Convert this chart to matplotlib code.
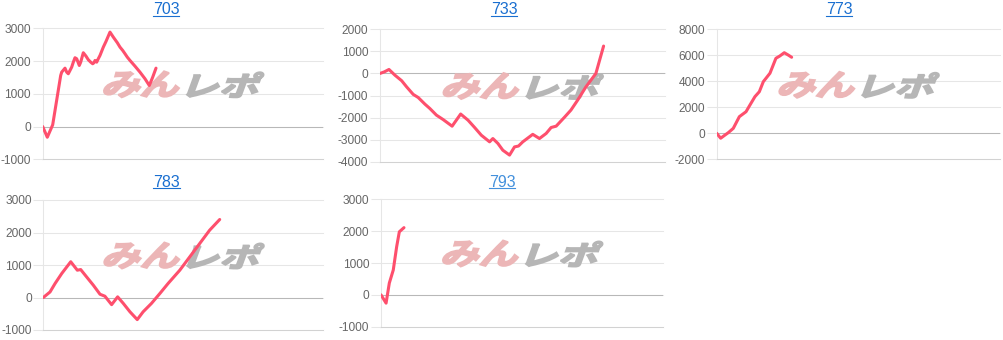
import matplotlib
matplotlib.use('Agg')
import matplotlib.pyplot as plt
from matplotlib.textpath import TextPath
from matplotlib.patches import PathPatch
from matplotlib.font_manager import FontProperties
from matplotlib.transforms import Affine2D
from matplotlib.lines import Line2D

# ---------------- data ----------------
titles = ['703', '733', '773', '783', '793']

games_703 = [0, 164, 356, 641, 677, 795, 855, 912, 973, 1033, 1091, 1151, 1212, 1304, 1354,
             1447, 1543, 1625, 1711, 1782, 1828, 1864, 1924, 1981, 2042, 2160, 2256, 2398,
             2516, 2659, 2755, 2851, 2933, 3015, 3111, 3289, 3467, 3646, 3799, 3920, 4038]
diff_703 = [0, -327, 52, 1560, 1661, 1783, 1661, 1612, 1713, 1814, 1966, 2101, 2070, 1865,
            1966, 2254, 2150, 2040, 1966, 1917, 1948, 2018, 1966, 2070, 2171, 2425, 2599,
            2884, 2731, 2560, 2425, 2324, 2223, 2119, 2018, 1844, 1661, 1459, 1254, 1508, 1783]

games_733 = [0, 150, 315, 525, 760, 935, 1165, 1340, 1575, 1750, 1980, 2215, 2530, 2830,
             3090, 3320, 3555, 3845, 3960, 4135, 4310, 4545, 4720, 4860, 5010, 5360, 5595,
             5830, 6005, 6180, 6470, 6700, 6935, 7225, 7575, 7845]
diff_733 = [0, 70, 180, -80, -330, -610, -950, -1090, -1390, -1590, -1890, -2090, -2390,
            -1840, -2120, -2450, -2800, -3100, -2950, -3170, -3480, -3700, -3330, -3290,
            -3100, -2760, -2950, -2720, -2450, -2390, -1990, -1660, -1210, -610, 0, 1240]

games_773 = [0, 140, 295, 410, 585, 800, 1035, 1175, 1350, 1505, 1645, 1880, 2090, 2230,
             2385, 2525, 2645]
diff_773 = [0, -380, -130, 50, 380, 1280, 1660, 2180, 2820, 3200, 3970, 4620, 5770, 5950,
            6200, 6020, 5850]

games_783 = [0, 240, 420, 660, 980, 1215, 1335, 1550, 1785, 2025, 2200, 2440, 2655, 2855,
             3095, 3355, 3565, 3865, 4160, 4455, 4875, 5230, 5585, 5940, 6300]
diff_783 = [0, 170, 430, 740, 1100, 840, 860, 630, 380, 100, 40, -220, 20, -180, -440,
            -680, -440, -180, 120, 430, 840, 1250, 1660, 2070, 2400]

games_793 = [0, 180, 295, 435, 555, 650, 815]
diff_793 = [0, -260, 370, 780, 1510, 1980, 2110]

ticks_703 = [-1000, 0, 1000, 2000, 3000]
ticks_733 = [-4000, -3000, -2000, -1000, 0, 1000, 2000]
ticks_773 = [-2000, 0, 2000, 4000, 6000, 8000]
ticks_783 = [-1000, 0, 1000, 2000, 3000]
ticks_793 = [-1000, 0, 1000, 2000, 3000]

GAME_MAX = 10000

# ---------------- layout ----------------
W, H = 1004, 340
fig = plt.figure(figsize=(W / 100, H / 100), dpi=100)
fig.patch.set_facecolor('white')

LINE_COLOR = '#fe4f6d'
GRID = '#e6e6e6'
ZERO = '#b8b8b8'
BOTTOM = '#d2d2d2'
LABEL = '#666666'
FONT = 'Liberation Sans'

panels = [
    dict(title=titles[0], g=games_703, d=diff_703, ticks=ticks_703,
         box=(42.7, 28.3, 323.3, 159.3), tx=166, tb=14.0, tc='#1a6fd0'),
    dict(title=titles[1], g=games_733, d=diff_733, ticks=ticks_733,
         box=(380.0, 29.3, 665.0, 161.7), tx=504, tb=14.0, tc='#1a6fd0'),
    dict(title=titles[2], g=games_773, d=diff_773, ticks=ticks_773,
         box=(716.7, 29.3, 1000.0, 159.3), tx=839, tb=14.0, tc='#1a6fd0'),
    dict(title=titles[3], g=games_783, d=diff_783, ticks=ticks_783,
         box=(43.3, 200.0, 323.3, 330.0), tx=166.5, tb=186.5, tc='#1a6fd0'),
    dict(title=titles[4], g=games_793, d=diff_793, ticks=ticks_793,
         box=(381.0, 199.3, 663.0, 326.7), tx=502, tb=186.5, tc='#4390dc'),
]

to_fig = Affine2D().scale(1.0 / W, 1.0 / H) + fig.transFigure
logo_fp = FontProperties(family='Noto Sans CJK JP', weight='bold')


def logo_part(ax, text, color, x0, ytop, x1, ybot):
    tp = TextPath((0, 0), text, size=100, prop=logo_fp)
    ext = tp.get_extents()
    p = Affine2D().translate(-ext.x0, -ext.y0).skew_deg(14, 0).transform_path(tp)
    e2 = p.get_extents()
    t2 = (Affine2D().translate(-e2.x0, -e2.y0)
          .scale((x1 - x0) / e2.width, (ybot - ytop) / e2.height)
          .translate(x0, H - ybot))
    patch = PathPatch(t2.transform_path(p), facecolor=color, edgecolor=color,
                      linewidth=1.4, joinstyle='miter',
                      transform=to_fig, zorder=1.5, clip_on=False)
    ax.add_patch(patch)


title_texts = []
for pnl in panels:
    x0, y0, x1, y1 = pnl['box']
    ax = fig.add_axes([x0 / W, (H - y1) / H, (x1 - x0) / W, (y1 - y0) / H])
    ax.set_facecolor('none')
    ticks = pnl['ticks']
    ax.set_xlim(0, GAME_MAX)
    ax.set_ylim(ticks[0], ticks[-1])
    ax.set_xticks([])
    ax.set_yticks(ticks)
    ax.set_yticklabels([str(t) for t in ticks], fontfamily=FONT)
    ax.tick_params(axis='y', length=7.2, width=0.75, color=GRID, pad=1.2,
                   labelsize=8.6, labelcolor=LABEL)
    for t, tk in zip(ticks, ax.yaxis.get_major_ticks()):
        if t == 0:
            tk.tick1line.set_color(ZERO)
    ax.yaxis.grid(True, color=GRID, lw=0.75)
    for gl in ax.get_ygridlines():
        gl.set_clip_on(False)
    ax.set_axisbelow(True)
    for s in ['top', 'right']:
        ax.spines[s].set_visible(False)
    ax.spines['left'].set_color(GRID)
    ax.spines['left'].set_linewidth(0.75)
    ax.spines['bottom'].set_color(BOTTOM)
    ax.spines['bottom'].set_linewidth(0.75)
    ax.axhline(0, color=ZERO, lw=0.75, zorder=1)

    # watermark logo
    cx = (x0 + x1) / 2.0
    cy = (y0 + y1) / 2.0 - 9.5
    logo_part(ax, 'みん', '#ecb6b7', cx - 79, cy - 13, cx - 4, cy + 13)
    logo_part(ax, 'レポ', '#b6b6b6', cx + 4, cy - 12, cx + 80.5, cy + 13)

    ax.plot(pnl['g'], pnl['d'], color=LINE_COLOR, lw=2.2, zorder=3,
            solid_joinstyle='round', solid_capstyle='round')

    tt = fig.text(pnl['tx'] / W, 1 - pnl['tb'] / H, pnl['title'], ha='center',
                  va='baseline', fontsize=11.5, color=pnl['tc'], fontfamily=FONT)
    title_texts.append((tt, pnl))

# underline the titles (links)
fig.canvas.draw()
renderer = fig.canvas.get_renderer()
for tt, pnl in title_texts:
    bb = tt.get_window_extent(renderer)
    yy = H - (pnl['tb'] + 1.8)
    fig.add_artist(Line2D([bb.x0 / W, bb.x1 / W], [yy / H, yy / H],
                          color=pnl['tc'], lw=0.8, transform=fig.transFigure))

fig.savefig('out.png', dpi=100, facecolor='white')
